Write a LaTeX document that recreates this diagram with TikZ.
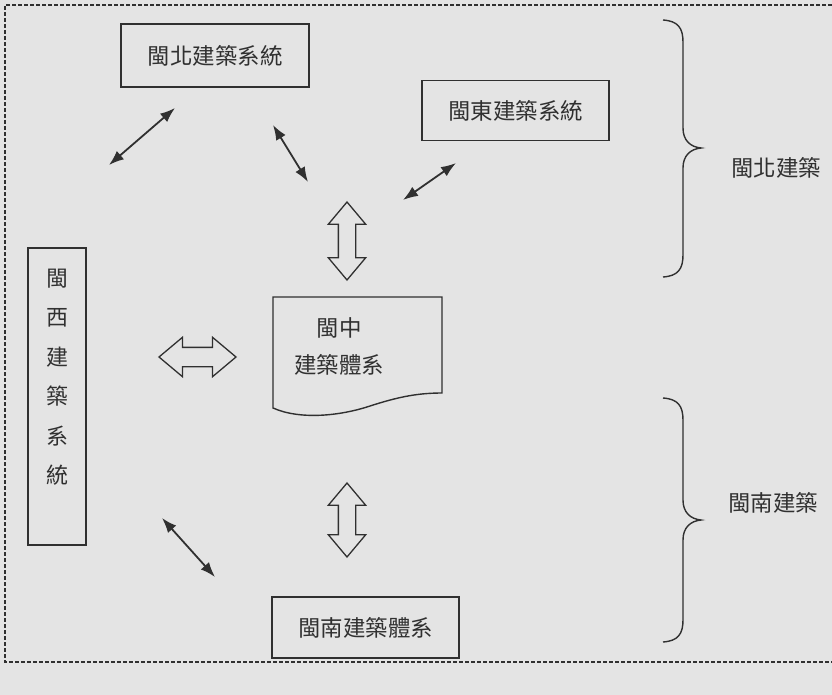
\documentclass[tikz,border=0pt]{standalone}
\usepackage{fontspec}
\newfontfamily\cjk{Noto Sans CJK TC}
\usetikzlibrary{shapes.arrows,arrows.meta}
\definecolor{ink}{HTML}{303030}
\definecolor{paper}{HTML}{E4E4E4}
\begin{document}
\begin{tikzpicture}[x=1pt,y=-1pt,
  cjkfont/.style={font=\cjk\fontsize{22.5}{22.5}\selectfont, text=ink},
  sysbox/.style={draw=ink, line width=1.4pt, cjkfont, inner sep=0pt},
  label/.style={cjkfont},
  thinarrow/.style={draw=ink, line width=1.8pt, {Latex[length=15pt,width=11pt]}-{Latex[length=15pt,width=11pt]}},
  hollow/.style={double arrow, draw=ink, line width=1.3pt, fill=paper, inner xsep=0pt, inner ysep=8pt,
     double arrow head extend=10pt, double arrow tip angle=80},
  bracepath/.style={draw=ink, line width=1.4pt},
  border/.style={draw=ink, line width=1.7pt, dash pattern=on 4pt off 2pt}
]
\useasboundingbox (0,0) rectangle (832,695);
\fill[paper] (0,0) rectangle (832,695);

% dashed frame
\draw[border] (832,5) -- (5,5) -- (5,662) -- (832,662);

% boxes
\node[sysbox, minimum width=188pt, minimum height=63pt] (north) at (215,55.5) {閩北建築系統};
\node[sysbox, minimum width=187pt, minimum height=60pt] (east) at (515.5,110.5) {閩東建築系統};
\node[sysbox, minimum width=187pt, minimum height=61pt] (south) at (365.5,627.5) {閩南建築體系};
\node[sysbox, minimum width=58pt, minimum height=297pt] (west) at (57,396.5) {};
\node[label, align=center, font=\cjk\fontsize{22}{39.5}\selectfont] (westtxt) at (57,377)
  {閩\\西\\建\\築\\系\\統};

% central document shape
\node[label, align=center, font=\cjk\fontsize{22.5}{37}\selectfont] (mid) at (339,346.5) {閩中\\建築體系};
\draw[ink, line width=1.4pt] (273,297) -- (442,297) -- (442,393)
  .. controls (415,393) and (395,398) .. (370,406)
  .. controls (340,416) and (300,420) .. (273,408) -- cycle;

% thin double arrows
\coordinate (a1s) at (175,108); \coordinate (a1e) at (109,165);
\coordinate (a2s) at (273,125); \coordinate (a2e) at (308,182);
\coordinate (a3s) at (456,163); \coordinate (a3e) at (403,200);
\coordinate (a4s) at (162,518); \coordinate (a4e) at (215,577);
\draw[thinarrow] (a1s) -- (a1e);
\draw[thinarrow] (a2s) -- (a2e);
\draw[thinarrow] (a3s) -- (a3e);
\draw[thinarrow] (a4s) -- (a4e);

% hollow double arrows
\node[hollow, minimum height=78pt, rotate=90] (vtop) at (347,241) {};
\node[hollow, minimum height=77pt, inner ysep=9pt] (hmid) at (197.5,357) {};
\node[hollow, minimum height=74pt, rotate=90] (vbot) at (347,520) {};

% braces
\draw[bracepath] (663,20) .. controls (678,21) and (683,28) .. (683,42) -- (683,128)
  .. controls (683,140) and (690,147) .. (701,148)
  .. controls (690,149) and (683,156) .. (683,168) -- (683,255)
  .. controls (683,269) and (678,276) .. (663,277);
\draw[bracepath] (663,398) .. controls (678,399) and (683,406) .. (683,420) -- (683,500)
  .. controls (683,512) and (690,519) .. (701,520)
  .. controls (690,521) and (683,528) .. (683,540) -- (683,620)
  .. controls (683,634) and (678,641) .. (663,642);

\node[label] (nlabel) at (776,168) {閩北建築};
\node[label] (slabel) at (773,503) {閩南建築};
\end{tikzpicture}
\end{document}
